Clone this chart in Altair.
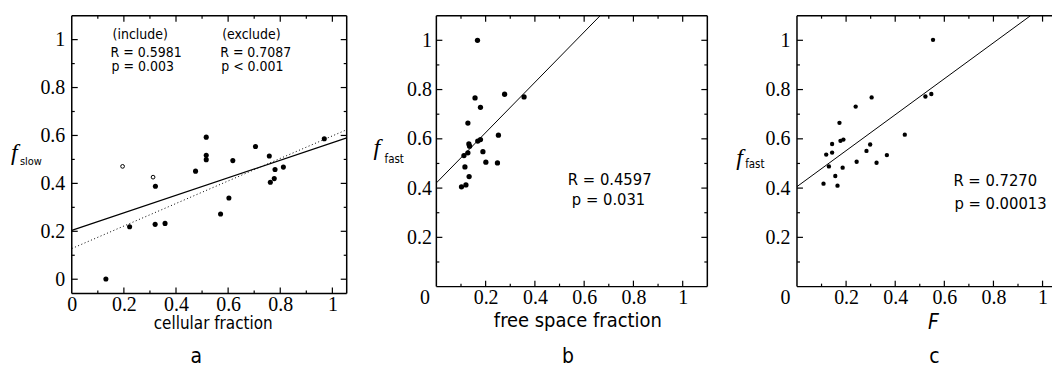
import altair as alt
import pandas as pd

# ---------------- data ----------------
# panel a : f_slow vs cellular fraction
a_fill_x = [0.516, 0.516, 0.516, 0.475, 0.618, 0.705, 0.758, 0.780, 0.812, 0.762,
            0.777, 0.969, 0.321, 0.603, 0.571, 0.320, 0.358, 0.222, 0.131]
a_fill_y = [0.593, 0.517, 0.499, 0.451, 0.495, 0.554, 0.514, 0.458, 0.468, 0.405,
            0.420, 0.586, 0.388, 0.339, 0.272, 0.229, 0.233, 0.219, 0.001]
a_open_x = [0.195, 0.312]
a_open_y = [0.471, 0.426]
a_line_x = [0.0, 1.055]
a_solid_y = [0.204, 0.590]
a_dot_y = [0.128, 0.624]

# panel b : f_fast vs free space fraction
b_x = [0.167, 0.157, 0.277, 0.356, 0.179, 0.128, 0.132, 0.135, 0.168, 0.179,
       0.252, 0.189, 0.128, 0.112, 0.201, 0.248, 0.116, 0.133, 0.120, 0.102]
b_y = [1.000, 0.766, 0.781, 0.770, 0.728, 0.664, 0.579, 0.570, 0.591, 0.597,
       0.615, 0.548, 0.543, 0.532, 0.505, 0.502, 0.486, 0.447, 0.413, 0.405]
b_line_x = [0.0, 0.665]
b_line_y = [0.421, 1.1]

# panel c : f_fast vs F
c_x = [0.554, 0.523, 0.547, 0.304, 0.239, 0.173, 0.143, 0.177, 0.189, 0.439, 0.298,
       0.283, 0.119, 0.143, 0.366, 0.243, 0.324, 0.130, 0.186, 0.156, 0.108, 0.165]
c_y = [1.002, 0.772, 0.782, 0.768, 0.731, 0.665, 0.579, 0.592, 0.597, 0.617, 0.577,
       0.551, 0.536, 0.544, 0.534, 0.507, 0.503, 0.488, 0.483, 0.449, 0.418, 0.410]
c_line_x = [0.0, 0.951]
c_line_y = [0.406, 1.1]

major_ticks = [0.0, 0.2, 0.4, 0.6, 0.8, 1.0]
minor_ticks = [0.1, 0.3, 0.5, 0.7, 0.9]
label_ticks_a = [0.0, 0.2, 0.4, 0.6, 0.8, 1.0]
label_ticks_y = [0.2, 0.4, 0.6, 0.8, 1.0]

SERIF = "Liberation Serif"
SANS = "DejaVu Sans Condensed, Liberation Sans Narrow, DejaVu Sans"


def scale(lo, hi):
    return alt.Scale(domain=[lo, hi], nice=False, zero=False)


def xaxis(values, zero_shift=0):
    kw = dict(values=values, ticks=False, domain=False, grid=False, title=None,
              format="~g", labelFont=SERIF, labelFontSize=20, labelColor="black",
              labelPadding=1, labelFlush=False, labelOverlap=False)
    if zero_shift:
        kw["labelOffset"] = {"condition": {"test": "datum.value == 0", "value": zero_shift},
                             "value": 0}
    return alt.Axis(**kw)


def yaxis(values, pad):
    return alt.Axis(values=values, ticks=False, domain=False, grid=False, title=None,
                    format="~g", labelFont=SERIF, labelFontSize=20, labelColor="black",
                    labelPadding=pad, labelFlush=False, labelOverlap=False)


def frame_and_ticks(W, H, X, Y, xmax, ylo, yhi, right=True):
    layers = []
    box = pd.DataFrame({"k": [0]})
    fr = alt.Chart(box).mark_rule(color="black", strokeWidth=1.5)
    layers.append(fr.encode(x=alt.value(0), x2=alt.value(W), y=alt.value(0)))
    layers.append(fr.encode(x=alt.value(0), x2=alt.value(W), y=alt.value(H)))
    layers.append(fr.encode(x=alt.value(0), y=alt.value(0), y2=alt.value(H)))
    if right:
        layers.append(fr.encode(x=alt.value(W), y=alt.value(0), y2=alt.value(H)))
    for vals, L in ((major_ticks, 6), (minor_ticks, 3)):
        v = [t for t in vals if 0 < t < xmax]
        base = alt.Chart(pd.DataFrame({"x": v})).mark_rule(color="black", strokeWidth=1.2)
        layers.append(base.encode(x=X, y=alt.value(H), y2=alt.value(H - L)))
        layers.append(base.encode(x=X, y=alt.value(0), y2=alt.value(L)))
    for vals, L in ((major_ticks, 6), (minor_ticks, 3)):
        v = [t for t in vals if ylo < t < yhi]
        base = alt.Chart(pd.DataFrame({"y": v})).mark_rule(color="black", strokeWidth=1.2)
        layers.append(base.encode(y=Y, x=alt.value(0), x2=alt.value(L)))
        if right:
            layers.append(base.encode(y=Y, x=alt.value(W), x2=alt.value(W - L)))
    return layers


def txt(s, x, y, size, font=SANS, align="left", baseline="middle", style="normal"):
    return alt.Chart(pd.DataFrame({"t": [s]})).mark_text(
        font=font, fontSize=size, align=align, baseline=baseline,
        fontStyle=style, color="black"
    ).encode(x=alt.value(x), y=alt.value(y), text="t:N")


# ---------------- panel a ----------------
WA, HA = 276, 279
XA = alt.X("x:Q", scale=scale(0, 1.055), axis=xaxis(label_ticks_a))
YA = alt.Y("y:Q", scale=scale(-0.06, 1.1), axis=yaxis(label_ticks_a, 7))
pts_a = alt.Chart(pd.DataFrame({"x": a_fill_x, "y": a_fill_y})).mark_circle(
    size=26, color="black", opacity=1).encode(x=XA, y=YA)
open_a = alt.Chart(pd.DataFrame({"x": a_open_x, "y": a_open_y})).mark_point(
    shape="circle", size=14, color="black", strokeWidth=1, filled=False, opacity=1
).encode(x=XA, y=YA)
solid_a = alt.Chart(pd.DataFrame({"x": a_line_x, "y": a_solid_y})).mark_line(
    color="black", strokeWidth=1.2).encode(x=XA, y=YA)
dot_a = alt.Chart(pd.DataFrame({"x": a_line_x, "y": a_dot_y})).mark_line(
    color="black", strokeWidth=1, strokeDash=[1, 2.5]).encode(x=XA, y=YA)

panel_a = alt.layer(
    pts_a, open_a, solid_a, dot_a,
    *frame_and_ticks(WA, HA, XA, YA, 1.055, -0.06, 1.1),
    txt("(include)", 41, 19, 14), txt("R = 0.5981", 39, 37, 14), txt("p = 0.003", 40, 52, 14),
    txt("(exclude)", 151, 19, 14), txt("R = 0.7087", 149, 37, 14), txt("p < 0.001", 150, 52, 14),
    txt("f", -61, 145, 24, font=SERIF, baseline="alphabetic", style="italic"),
    txt("slow", -52, 150, 11, baseline="alphabetic"),
    txt("cellular fraction", 142, 315, 17, align="center", baseline="alphabetic"),
    txt("a", 125, 349, 21, align="center", baseline="alphabetic"),
).properties(width=WA, height=HA)

# ---------------- panel b ----------------
WB, HB = 272, 272
XB = alt.X("x:Q", scale=scale(0, 1.1), axis=xaxis(label_ticks_a, -12))
YB = alt.Y("y:Q", scale=scale(0, 1.1), axis=yaxis(label_ticks_y, 5))
pts_b = alt.Chart(pd.DataFrame({"x": b_x, "y": b_y})).mark_circle(
    size=28, color="black", opacity=1).encode(x=XB, y=YB)
line_b = alt.Chart(pd.DataFrame({"x": b_line_x, "y": b_line_y})).mark_line(
    color="black", strokeWidth=1).encode(x=XB, y=YB)

panel_b = alt.layer(
    pts_b, line_b,
    *frame_and_ticks(WB, HB, XB, YB, 1.1, 0, 1.1),
    txt("R = 0.4597", 132, 165, 16.5), txt("p = 0.031", 136, 185, 16.5),
    txt("f", -63, 140, 24, font=SERIF, baseline="alphabetic", style="italic"),
    txt("fast", -52, 148, 11.5, baseline="alphabetic"),
    txt("free space fraction", 142, 313, 20, align="center", baseline="alphabetic"),
    txt("b", 132, 349, 21, align="center", baseline="alphabetic"),
).properties(width=WB, height=HB)

# ---------------- panel c ----------------
WC, HC = 256, 272
XC = alt.X("x:Q", scale=scale(0, 1.0385), axis=xaxis(label_ticks_a, -12))
YC = alt.Y("y:Q", scale=scale(0, 1.1), axis=yaxis(label_ticks_y, 7))
pts_c = alt.Chart(pd.DataFrame({"x": c_x, "y": c_y})).mark_circle(
    size=19, color="black", opacity=1).encode(x=XC, y=YC)
line_c = alt.Chart(pd.DataFrame({"x": c_line_x, "y": c_line_y})).mark_line(
    color="black", strokeWidth=1).encode(x=XC, y=YC)

panel_c = alt.layer(
    pts_c, line_c,
    *frame_and_ticks(WC, HC, XC, YC, 1.0385, 0, 1.1, right=False),
    txt("R = 0.7270", 157, 166, 16.5), txt("p = 0.00013", 158, 189, 16.5),
    txt("f", -61, 150, 24, font=SERIF, baseline="alphabetic", style="italic"),
    txt("fast", -52, 153, 11.5, baseline="alphabetic"),
    txt("F", 137, 315, 21, align="center", baseline="alphabetic", style="italic"),
    txt("c", 138, 349, 21, align="center", baseline="alphabetic"),
).properties(width=WC, height=HC)

chart = alt.hconcat(panel_a, panel_b, panel_c, spacing=90, bounds="flush").properties(
    padding={"left": 2, "top": 4, "right": 0, "bottom": 0}
).configure_view(stroke="transparent").configure_axis(
    labelFont=SERIF, labelFontSize=20, labelColor="black"
)

chart.save("out.html", embed_options={"renderer": "svg", "actions": False})
